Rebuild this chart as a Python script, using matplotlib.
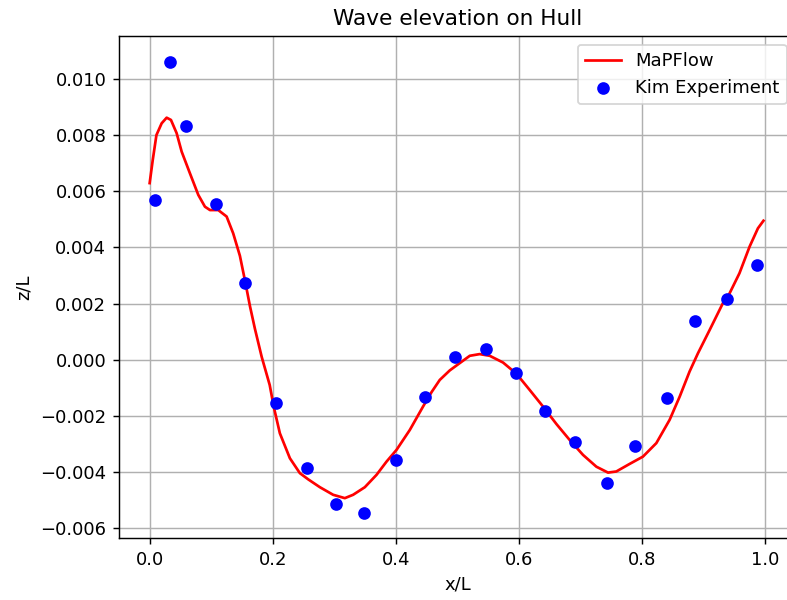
import matplotlib.pyplot as plt

# MaPFlow wave elevation along the hull
line_x = [0.0, 0.005, 0.011, 0.0195, 0.0276, 0.0346, 0.0438, 0.052, 0.0654, 0.079,
          0.0898, 0.098, 0.1114, 0.125, 0.1357, 0.1466, 0.155, 0.163, 0.171, 0.182, 0.195,
          0.2018, 0.2115, 0.2278, 0.244, 0.2575, 0.2765, 0.298, 0.317, 0.3305, 0.3495,
          0.3685, 0.3847, 0.401, 0.4226, 0.444, 0.458, 0.4712, 0.4875, 0.5037, 0.52, 0.536,
          0.5524, 0.574, 0.5958, 0.6174, 0.639, 0.6607, 0.6823, 0.7039, 0.7256, 0.7445,
          0.758, 0.7797, 0.8013, 0.823, 0.8446, 0.861, 0.877, 0.8906, 0.9096, 0.931,
          0.9367, 0.958, 0.9745, 0.988, 0.997]
line_z = [0.00629, 0.00711, 0.0080, 0.00842, 0.00862, 0.00854, 0.00807, 0.00741, 0.00664, 0.00587,
          0.00545, 0.00533, 0.00533, 0.0051, 0.0045, 0.0037, 0.0028, 0.0019, 0.0011, 0.0001, -0.0009,
          -0.0017, -0.00262, -0.00351, -0.00404, -0.00426, -0.00454, -0.00481, -0.00493, -0.00481, -0.00454,
          -0.0041, -0.00363, -0.00321, -0.0025, -0.00167, -0.00115, -0.00072, -0.00038, -0.00012, 0.00014, 0.0002,
          0.00014, -0.0001, -0.0005, -0.00108, -0.00167, -0.00229, -0.00286, -0.00339, -0.00381, -0.00402,
          -0.00398, -0.00371, -0.00345, -0.00297, -0.00214, -0.00131, -0.00042, 0.00023, 0.00106, 0.00201,
          0.00213, 0.00308, 0.00403, 0.00468, 0.00495]

# Kim experiment
exp_x = [0.009, 0.0325, 0.059, 0.1077, 0.155, 0.205, 0.2548, 0.3024, 0.348, 0.400, 0.447,
         0.4967, 0.546, 0.5946, 0.6417, 0.6915, 0.7424, 0.788, 0.8398, 0.8864, 0.937, 0.986]
exp_z = [0.00569, 0.01059, 0.00832, 0.00556, 0.00273, -0.00154, -0.00387, -0.00514, -0.00547, -0.00358, -0.00133,
         0.00011, 0.00037, -0.00046, -0.00182, -0.00294, -0.00439, -0.00308, -0.00135, 0.00137, 0.00217, 0.00337]

# rendered at 130 dpi so fonts and marks come out ~1.3x the default size
fig = plt.figure(figsize=(787 / 130, 600 / 130), dpi=130)
ax = fig.add_axes([0.1512, 0.1033, 0.8602, 0.8372])
ax.plot(line_x, line_z, color='red', label='MaPFlow')
ax.scatter(exp_x, exp_z, color='blue', label='Kim Experiment', zorder=3)
ax.set_xlim(-0.0498, 1.0498)
ax.set_ylim(-0.00635, 0.01154)
ax.set_xticks([0.0, 0.2, 0.4, 0.6, 0.8, 1.0])
ax.set_yticks([-0.006, -0.004, -0.002, 0.0, 0.002, 0.004, 0.006, 0.008, 0.010])
ax.grid(True)
ax.set_axisbelow(True)
ax.set_title('Wave elevation on Hull')
ax.set_xlabel('x/L')
ax.set_ylabel('z/L')
ax.legend(loc='upper right')
fig.savefig('out.png', dpi=130)
